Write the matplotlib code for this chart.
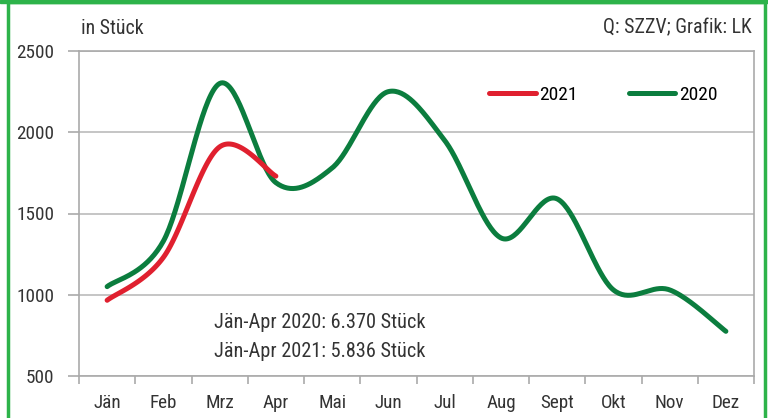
import numpy as np
import matplotlib
matplotlib.use("Agg")
import matplotlib.pyplot as plt
from matplotlib import font_manager as fm
from matplotlib.patches import Rectangle

months = ["Jän", "Feb", "Mrz", "Apr", "Mai", "Jun", "Jul", "Aug", "Sept", "Okt", "Nov", "Dez"]
values_2020 = [1050, 1330, 2300, 1690, 1780, 2250, 1950, 1350, 1590, 1030, 1030, 775]
values_2021 = [966, 1230, 1910, 1730]
y_ticks = [500, 1000, 1500, 2000, 2500]

names = {f.name for f in fm.fontManager.ttflist}
cands = ["Liberation Sans Narrow", "Roboto Condensed", "Open Sans Condensed", "Noto Sans Condensed",
         "Roboto", "Liberation Sans"]
fam = next((c for c in cands if c in names), "DejaVu Sans")
plt.rcParams['font.family'] = [fam, 'DejaVu Sans']
plt.rcParams['font.stretch'] = 'condensed'

def smooth(x, y, n=40):
    x = np.asarray(x, float); y = np.asarray(y, float)
    px = np.concatenate([[x[0]], x, [x[-1]]])
    py = np.concatenate([[y[0]], y, [y[-1]]])
    xs, ys = [], []
    t = np.linspace(0, 1, n)
    for i in range(1, len(px) - 2):
        p0 = np.array([px[i], py[i]]); p3 = np.array([px[i+1], py[i+1]])
        c1 = p0 + (np.array([px[i+1], py[i+1]]) - np.array([px[i-1], py[i-1]])) / 6
        c2 = p3 - (np.array([px[i+2], py[i+2]]) - np.array([px[i], py[i]])) / 6
        b = ((1-t)**3)[:, None]*p0 + (3*(1-t)**2*t)[:, None]*c1 + (3*(1-t)*t**2)[:, None]*c2 + (t**3)[:, None]*p3
        xs.append(b[:, 0]); ys.append(b[:, 1])
    return np.concatenate(xs), np.concatenate(ys)

fig = plt.figure(figsize=(7.68, 4.18), dpi=100)
W, H = 768, 418
ax = fig.add_axes([79/W, 1-376/H, (754-79)/W, (376-51)/H])

x20 = np.arange(len(values_2020))
x21 = np.arange(len(values_2021))
sx, sy = smooth(x20, values_2020)
ax.plot(sx, sy, color="#0b7d3e", lw=3.6, solid_capstyle="round", label="2020", zorder=3)
sx, sy = smooth(x21, values_2021)
ax.plot(sx, sy, color="#e0202f", lw=3.6, solid_capstyle="round", label="2021", zorder=4)

ax.set_xlim(-0.5, 11.5)
ax.set_ylim(500, 2500)
ax.set_yticks(y_ticks)
ax.set_yticklabels([str(v) for v in y_ticks], fontsize=13.8, color="#333333")
ax.set_xticks(x20)
ax.set_xticklabels(months, fontsize=13.8, color="#333333")
ax.set_xticks(np.arange(-0.5, 12, 1), minor=True)
ax.tick_params(axis='x', which='major', length=0, pad=13)
ax.tick_params(axis='x', which='minor', length=6, color="#aaaaaa", width=1.2)
ax.tick_params(axis='y', length=8, color="#aaaaaa", width=1.2, pad=10)
ax.grid(axis='y', color="#bbbbbb", lw=1.2)
for s in ax.spines.values():
    s.set_color("#aaaaaa"); s.set_linewidth(1.2)

h, l = ax.get_legend_handles_labels()
ax.legend(h[::-1], l[::-1], loc="center left", bbox_to_anchor=((489-79)/(754-79), (376-95)/(376-51)),
          ncol=2, frameon=False, fontsize=14, handlelength=2.4, columnspacing=2.6,
          handletextpad=0.2, borderaxespad=0, borderpad=0)

ax.text(3.78, 832, "Jän-Apr 2020: 6.370 Stück", ha="center", va="center", fontsize=14.6, color="#333333")
ax.text(3.78, 648, "Jän-Apr 2021: 5.836 Stück", ha="center", va="center", fontsize=14.6, color="#333333")

fig.text(81/W, 1-28/H, "in Stück", fontsize=14.3, color="#333333", va="center")
fig.text(752/W, 1-28/H, "Q: SZZV; Grafik: LK", fontsize=14.3, color="#333333", va="center", ha="right")

fig.patches.append(Rectangle((8/W, -0.1), (765-8)/W, 1.1 - 2/H, transform=fig.transFigure,
                             fill=False, edgecolor="#2db34a", lw=2.5))
fig.patches.append(Rectangle((0, 1-3/H), 1, 3/H, transform=fig.transFigure, color="#2db34a"))

fig.savefig("out.png", dpi=100)
